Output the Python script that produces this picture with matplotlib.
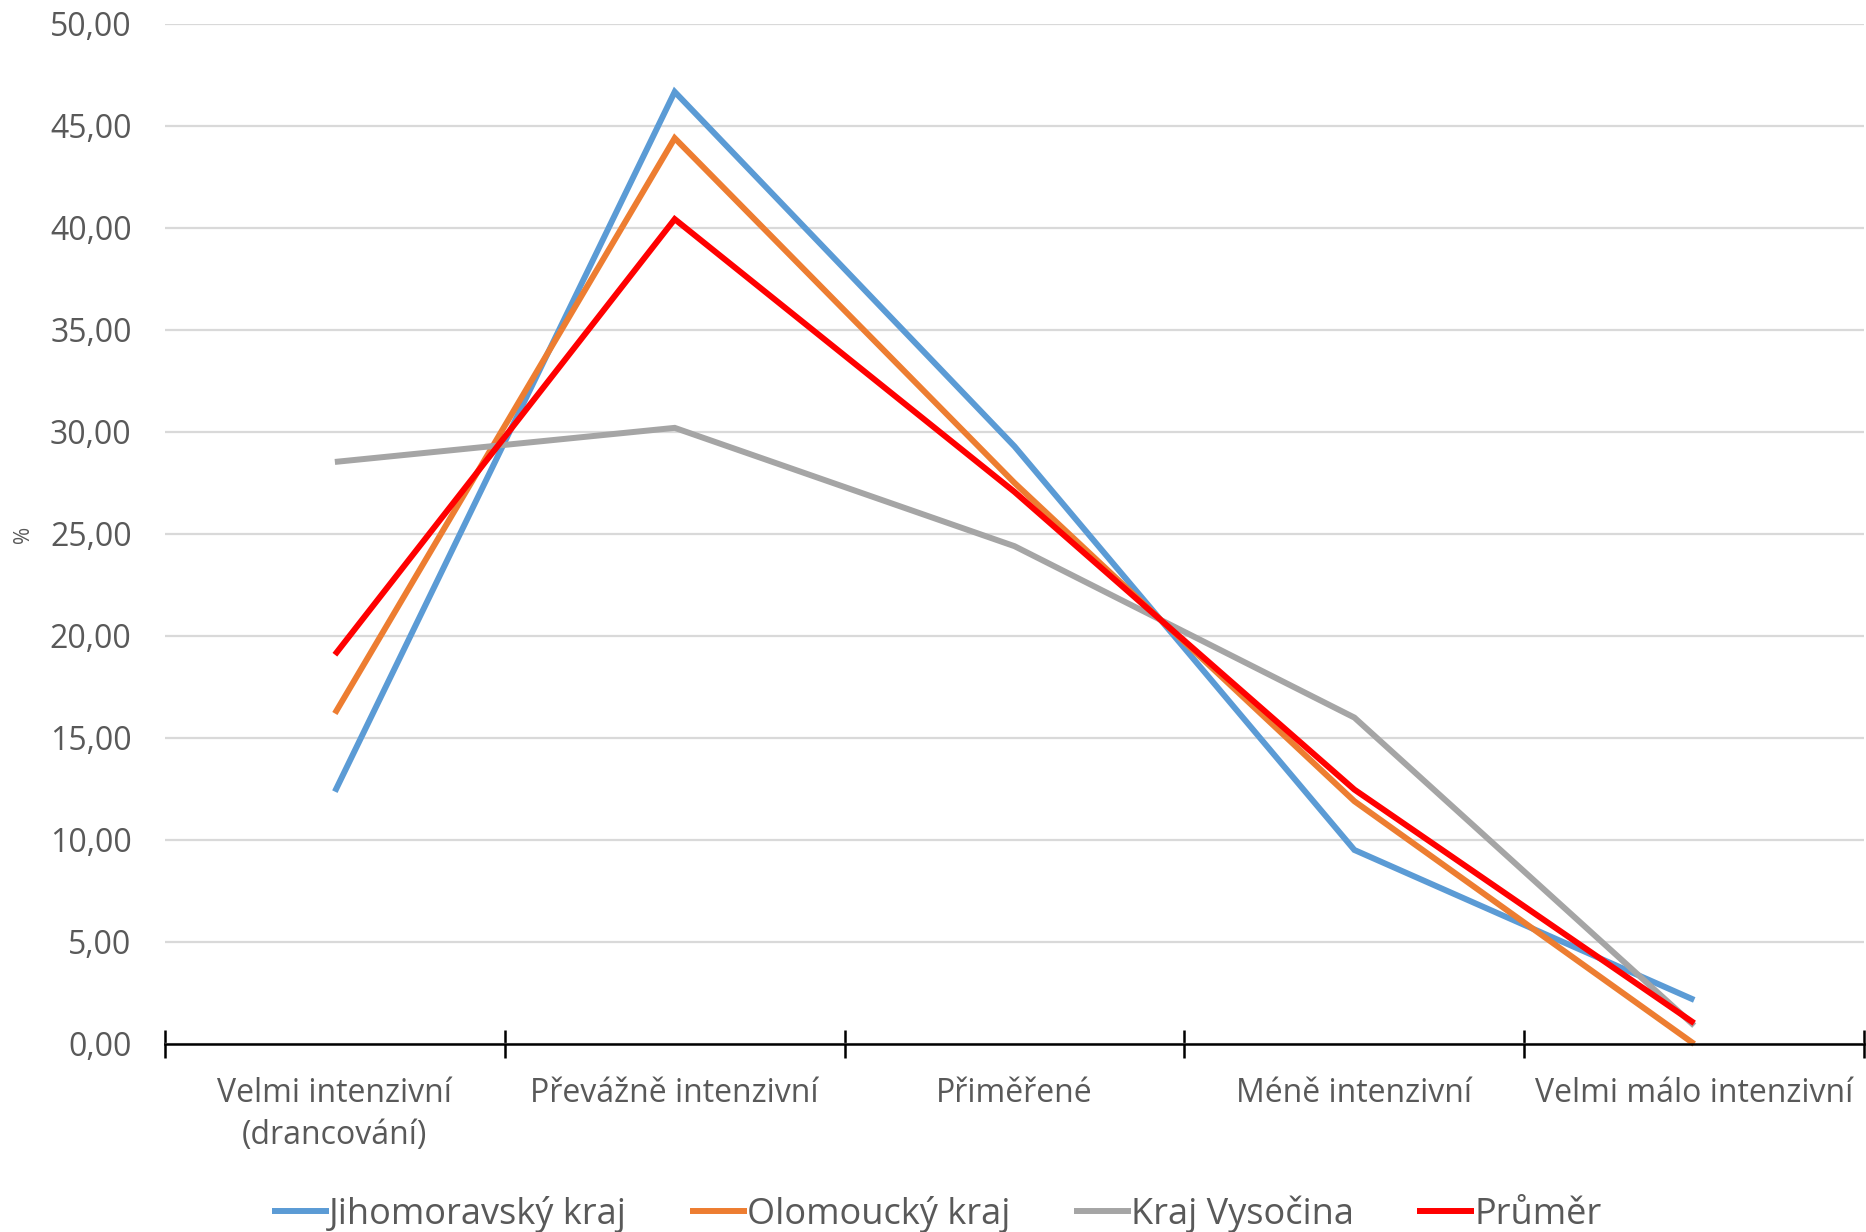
import numpy as np
import matplotlib
matplotlib.use("Agg")
import matplotlib.pyplot as plt

categories = ["Velmi intenzivní\n(drancování)", "Převážně intenzivní", "Přiměřené",
              "Méně intenzivní", "Velmi málo intenzivní"]
jihomoravsky = [12.37, 46.67, 29.29, 9.51, 2.16]
olomoucky = [16.2, 44.4, 27.5, 11.9, 0.0]
vysocina = [28.53, 30.2, 24.4, 16.0, 0.9]
prumer = [19.08, 40.43, 27.06, 12.47, 1.02]
yticks = [0, 5, 10, 15, 20, 25, 30, 35, 40, 45, 50]

series = [
    ("Jihomoravský kraj", jihomoravsky, "#5b9bd5"),
    ("Olomoucký kraj", olomoucky, "#ed7d31"),
    ("Kraj Vysočina", vysocina, "#a5a5a5"),
    ("Průměr", prumer, "#ff0000"),
]

plt.rcParams['font.family'] = ['Open Sans', 'DejaVu Sans']

fig = plt.figure(figsize=(18.66, 12.32), dpi=100)
ax = fig.add_axes([0.0884, 0.1526, 0.9106, 0.828])

x = np.arange(len(categories))
for name, vals, col in series:
    ax.plot(x, vals, color=col, lw=4.3, label=name, solid_joinstyle='miter',
            solid_capstyle='butt', clip_on=False)

ax.set_xlim(-0.5, len(categories) - 0.5)
ax.set_ylim(0, 50)
ax.set_yticks(yticks)
ax.set_yticklabels([f"{v:.2f}".replace(".", ",") for v in yticks])
ax.grid(axis='y', color='#d9d9d9', lw=1.6)
ax.set_axisbelow(True)

ax.set_xticks(x)
ax.set_xticklabels(categories, linespacing=1.35)
ax.set_xticks(np.arange(-0.5, len(categories)), minor=True)
ax.tick_params(axis='x', which='major', length=0, pad=24, labelsize=23,
               labelcolor='#595959')
ax.tick_params(axis='x', which='minor', length=20, width=1.8,
               direction='inout', color='black')
ax.tick_params(axis='y', length=0, pad=24, labelsize=23, labelcolor='#595959')

for s in ['top', 'right', 'left']:
    ax.spines[s].set_visible(False)
ax.spines['bottom'].set_color('black')
ax.spines['bottom'].set_linewidth(1.8)

ax.set_ylabel("%", fontsize=15, color='#595959')
ax.yaxis.set_label_coords(-0.077, 0.5)

leg = fig.legend(loc='lower center', bbox_to_anchor=(0.502, -0.027), ncol=4,
                 frameon=False, fontsize=26, handlelength=1.58, handletextpad=0.0,
                 columnspacing=1.75)
for t in leg.get_texts():
    t.set_color('#595959')

fig.savefig("out.png", dpi=100)
